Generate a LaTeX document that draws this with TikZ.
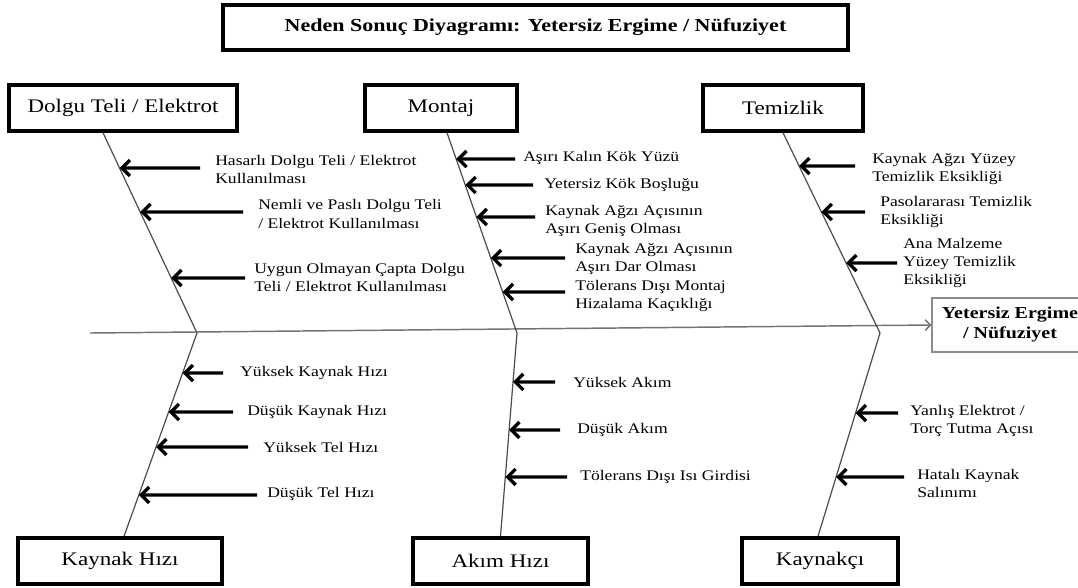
\documentclass[tikz,border=0pt]{standalone}
\usepackage{fontspec}
\setmainfont{Liberation Serif}[FakeStretch=1.2]
\usetikzlibrary{arrows.meta,calc}
\newcommand{\lblfont}{\fontsize{11}{13.8}\selectfont}
\newcommand{\headfont}{\fontsize{14.4}{17}\selectfont}
\newcommand{\ttlfont}{\fontsize{13.75}{16}\selectfont\bfseries}
\newcommand{\efffont}{\fontsize{12.5}{15}\selectfont\bfseries}
\newcommand{\causearrow}[5]{%
  \coordinate (#1) at (#4,#5);
  \draw[cause] (#1) -- (intersection cs: first line={(#2)--(#3)}, second line={(0,#5)--(10,#5)});
}
\begin{document}
\begin{tikzpicture}[x=0.75pt,y=-0.75pt,
  catbox/.style={draw=black, line width=2.6pt, inner sep=0pt, font=\headfont},
  bone/.style={draw=black!70, line width=0.9pt},
  spine/.style={draw=black!55, line width=1.1pt, -{Straight Barb[length=4pt,width=8pt]}},
  cause/.style={draw=black, line width=2.5pt, -{Straight Barb[length=6pt,width=12pt]}},
  lbl/.style={anchor=west, align=left, inner sep=0pt, font=\lblfont},
]
\fill[white] (0,0) rectangle (1078,587);
\clip (0,0) rectangle (1078,587);

% title
\node[catbox, minimum width=468.75pt, minimum height=33.75pt, font=\ttlfont] (title) at (535.5,27.5)
  {Neden Sonuç Diyagramı: Yetersiz Ergime / Nüfuziyet};

% category boxes
\node[catbox, minimum width=171pt, minimum height=34.5pt] (dolgu) at (123,108) {Dolgu Teli / Elektrot};
\node[catbox, minimum width=114pt, minimum height=34.5pt] (montaj) at (441,108) {Montaj};
\node[catbox, minimum width=120pt, minimum height=34.5pt] (temiz) at (783,108) {Temizlik};
\node[catbox, minimum width=153pt, minimum height=34.5pt] (khiz) at (120,561) {Kaynak Hızı};
\node[catbox, minimum width=131.25pt, minimum height=34.5pt] (akim) at (500.5,561) {Akım Hızı};
\node[catbox, minimum width=117pt, minimum height=34.5pt] (kcy) at (820,561) {Kaynakçı};

% effect
\node[draw=black!45, line width=0.8pt, minimum width=117pt, minimum height=40.5pt, inner sep=0pt,
  align=center, font=\efffont] (effect) at (1010,325) {Yetersiz Ergime\\/ Nüfuziyet};

% spine and bones
\coordinate (s0) at (90,333);
\coordinate (j1) at (197,333);
\coordinate (j2) at (517,333);
\coordinate (j3) at (880,333);
\coordinate (d0) at ([xshift=-15pt]dolgu.south);
\coordinate (m0) at ([xshift=4.5pt]montaj.south);
\coordinate (t0) at (temiz.south);
\coordinate (k0) at ([xshift=3pt]khiz.north);
\coordinate (a0) at (akim.north);
\coordinate (c0) at ([xshift=-1.5pt]kcy.north);
\draw[spine] (s0) -- (effect.west);
\draw[bone] (d0) -- (j1);
\draw[bone] (m0) -- (j2);
\draw[bone] (t0) -- (j3);
\draw[bone] (k0) -- (j1);
\draw[bone] (a0) -- (j2);
\draw[bone] (c0) -- (j3);

% Dolgu Teli / Elektrot
\causearrow{da1}{d0}{j1}{200}{168}
\causearrow{da2}{d0}{j1}{243}{212}
\causearrow{da3}{d0}{j1}{245}{278}
\node[lbl] (dl1) at (215,169.5) {Hasarlı Dolgu Teli / Elektrot\\Kullanılması};
\node[lbl] (dl2) at (258,214) {Nemli ve Paslı Dolgu Teli\\/ Elektrot Kullanılması};
\node[lbl] (dl3) at (254,277.5) {Uygun Olmayan Çapta Dolgu\\Teli / Elektrot Kullanılması};

% Montaj
\causearrow{ma1}{m0}{j2}{515}{159}
\causearrow{ma2}{m0}{j2}{533}{185}
\causearrow{ma3}{m0}{j2}{535}{217}
\causearrow{ma4}{m0}{j2}{565}{258}
\causearrow{ma5}{m0}{j2}{565}{292}
\node[lbl] (ml1) at (523,158) {Aşırı Kalın Kök Yüzü};
\node[lbl] (ml2) at (544,185) {Yetersiz Kök Boşluğu};
\node[lbl] (ml3) at (545,221) {Kaynak Ağzı Açısının\\Aşırı Geniş Olması};
\node[lbl] (ml4) at (575,259) {Kaynak Ağzı Açısının\\Aşırı Dar Olması};
\node[lbl] (ml5) at (575,296) {Tölerans Dışı Montaj\\Hizalama Kaçıklığı};

% Temizlik
\causearrow{ta1}{t0}{j3}{855}{166}
\causearrow{ta2}{t0}{j3}{865}{212}
\causearrow{ta3}{t0}{j3}{897}{263}
\node[lbl] (tl1) at (872,169) {Kaynak Ağzı Yüzey\\Temizlik Eksikliği};
\node[lbl] (tl2) at (880,212) {Pasolararası Temizlik\\Eksikliği};
\node[lbl] (tl3) at (903,263) {Ana Malzeme\\Yüzey Temizlik\\Eksikliği};

% Kaynak Hızı
\causearrow{ka1}{j1}{k0}{223}{373}
\causearrow{ka2}{j1}{k0}{233}{412}
\causearrow{ka3}{j1}{k0}{248}{447}
\causearrow{ka4}{j1}{k0}{257}{495}
\node[lbl] (kl1) at (240,373) {Yüksek Kaynak Hızı};
\node[lbl] (kl2) at (247,412) {Düşük Kaynak Hızı};
\node[lbl] (kl3) at (263,447) {Yüksek Tel Hızı};
\node[lbl] (kl4) at (267,494) {Düşük Tel Hızı};

% Akım Hızı
\causearrow{aa1}{j2}{a0}{555}{382}
\causearrow{aa2}{j2}{a0}{560}{430}
\causearrow{aa3}{j2}{a0}{567}{477}
\node[lbl] (al1) at (573,382) {Yüksek Akım};
\node[lbl] (al2) at (577,430) {Düşük Akım};
\node[lbl] (al3) at (580,477) {Tölerans Dışı Isı Girdisi};

% Kaynakçı
\causearrow{ca1}{j3}{c0}{898}{413}
\causearrow{ca2}{j3}{c0}{904}{477}
\node[lbl] (cl1) at (910,421) {Yanlış Elektrot /\\Torç Tutma Açısı};
\node[lbl] (cl2) at (917,483.5) {Hatalı Kaynak\\Salınımı};
\end{tikzpicture}
\end{document}
